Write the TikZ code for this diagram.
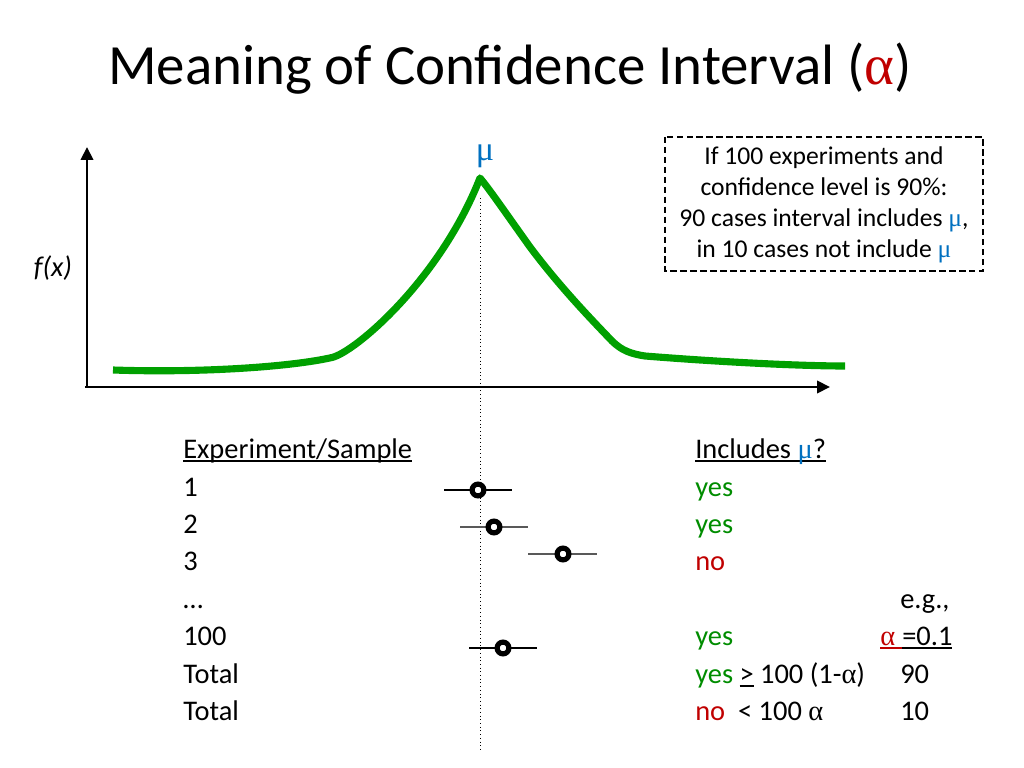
\documentclass[tikz,border=0pt]{standalone}
\usepackage{fontspec}
\setmainfont{Carlito}
\newfontfamily\grk{Liberation Serif}
\usetikzlibrary{arrows.meta}
\definecolor{mublue}{RGB}{0,112,192}
\definecolor{txtgreen}{RGB}{0,140,0}
\definecolor{curvegreen}{RGB}{0,160,0}
\definecolor{txtred}{RGB}{192,0,0}
\newcommand\ulx[1]{\begingroup\setbox0\hbox{#1}\rlap{\rule[-0.13em]{\wd0}{0.06em}}\box0\endgroup}
\newcommand\gmu{{\grk\color{mublue}μ}}
\newcommand\gal{{\grk α}}
\begin{document}
\begin{tikzpicture}[x=0.703125pt,y=-0.703125pt,
  row/.style={anchor=base west,inner sep=0,font=\fontsize{20}{24}\selectfont},
  boxtxt/.style={anchor=base,inner sep=0,font=\fontsize{18}{22}\selectfont},
  axis/.style={line width=2.1pt,-{Triangle[length=9pt,width=8.5pt]}},
  ivl/.style={line width=1pt},
  dot/.style={circle,draw=black,fill=white,line width=3.6pt,minimum size=8.3pt,inner sep=0}]
\useasboundingbox (0,0) rectangle (1024,768);
% title
\node[anchor=base west,inner sep=0,font=\fontsize{40}{48}\selectfont] (title) at (108,85) {Meaning of Confidence Interval ({\grk\color{txtred}α})};
% axes
\coordinate (o) at (87,387);
\coordinate (ytop) at (87,147);
\coordinate (xend) at (830,387);
\draw[axis] (o) -- (ytop);
\draw[axis] ([xshift=-1.5]o) -- (xend);
\node[font=\fontsize{20}{24}\selectfont\itshape] (fx) at (53,268) {f(x)};
% mean line
\coordinate (mtop) at (480,198);
\coordinate (mbot) at (480,752);
\draw[dotted,line width=0.6pt] (mtop) -- (mbot);
\node[font=\fontsize{24}{28}\selectfont] (mu) at (485,156) {\gmu};
% curve
\draw[curvegreen,line width=5pt,line join=round]
  (113,370) .. controls (200,373) and (290,367) .. (332,357.5)
  .. controls (355,352) and (440,280) .. (480,178)
  .. controls (490,190) and (505,212) .. (530,247)
  .. controls (560,287) and (590,318) .. (612,341)
  .. controls (622,351) and (632,354) .. (645,356)
  .. controls (720,362) and (800,366) .. (845,366);
% dashed box
\draw[line width=1.1pt,dash pattern=on 4.5pt off 2.5pt] (665,137) rectangle (983,271);
\node[boxtxt] (b1) at (824,165) {If 100 experiments and};
\node[boxtxt] (b2) at (824,196) {confidence level is 90\%:};
\node[boxtxt] (b3) at (824,227) {90 cases interval includes \gmu,};
\node[boxtxt] (b4) at (824,258) {in 10 cases not include \gmu};
% left column
\node[row] (h1) at (183,458) {\ulx{Experiment/Sample}};
\node[row] (r1) at (183,496) {1};
\node[row] (r2) at (183,533) {2};
\node[row] (r3) at (183,570) {3};
\node[row] (r4) at (183,608) {…};
\node[row] (r5) at (183,645) {100};
\node[row] (r6) at (183,683) {Total};
\node[row] (r7) at (183,720) {Total};
% right column
\node[row] (h2) at (695,458) {\ulx{Includes \gmu?}};
\node[row,txtgreen] (s1) at (695,496) {yes};
\node[row,txtgreen] (s2) at (695,533) {yes};
\node[row,txtred] (s3) at (695,570) {no};
\node[row,txtgreen] (s5) at (695,645) {yes};
\node[row] (s6) at (695,683) {{\color{txtgreen}yes} \ulx{>} 100 (1-\gal)};
\node[row] (s7) at (695,720) {{\color{txtred}no}\ \ < 100 \gal};
\node[row] (e1) at (900,608) {e.g.,};
\node[row] (e2) at (880,645) {{\color{txtred}\ulx{\grk α }}\ulx{=0.1}};
\node[row] (e3) at (900,683) {90};
\node[row] (e4) at (900,720) {10};
% intervals
\coordinate (a1) at (444,490); \coordinate (c1) at (512,490);
\coordinate (a2) at (460,527); \coordinate (c2) at (528,527);
\coordinate (a3) at (528,554); \coordinate (c3) at (597,554);
\coordinate (a4) at (469,648); \coordinate (c4) at (537,648);
\draw[ivl] (a1) -- (c1);
\draw[ivl,gray!70!black] (a2) -- (c2);
\draw[ivl,gray!70!black] (a3) -- (c3);
\draw[ivl] (a4) -- (c4);
\node[dot] (d1) at (478,490) {};
\node[dot] (d2) at (494,527) {};
\node[dot] (d3) at (563,554) {};
\node[dot] (d4) at (503,648) {};
\end{tikzpicture}
\end{document}
